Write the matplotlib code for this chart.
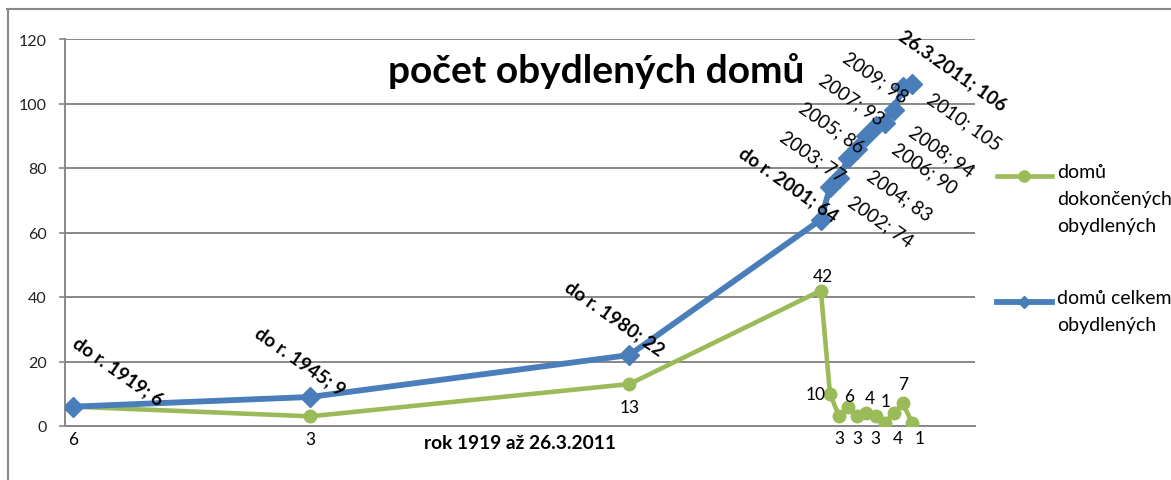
import matplotlib.pyplot as plt
from matplotlib.lines import Line2D

plt.rcParams['font.family'] = ['Lato', 'DejaVu Sans']

# ---- data ----
YEARS = [1919, 1945, 1980, 2001, 2002, 2003, 2004, 2005, 2006, 2007, 2008, 2009, 2010, 2011]
CELKEM = [6, 9, 22, 64, 74, 77, 83, 86, 90, 93, 94, 98, 105, 106]
DOKONCENE = [6, 3, 13, 42, 10, 3, 6, 3, 4, 3, 1, 4, 7, 1]
CELKEM_LABELS = ['do r. 1919; 6', 'do r. 1945; 9', 'do r. 1980; 22', 'do r. 2001; 64',
                 '2002; 74', '2003; 77', '2004; 83', '2005; 86', '2006; 90',
                 '2007; 93', '2008; 94', '2009; 98', '2010; 105', '26.3.2011; 106']
CELKEM_BOLD = [True, True, True, True, False, False, False, False, False,
               False, False, False, False, True]
NAME_DOKONCENE = 'domů\ndokončených\nobydlených'
NAME_CELKEM = 'domů celkem\nobydlených'
TITLE = 'počet obydlených domů'
XLABEL = 'rok 1919 až 26.3.2011'

# ---- style ----
C_BLUE = '#4A7EBB'
C_GREEN = '#9BBB59'
C_GRID = '#888888'
# label offsets in pixels (dx, dy) from each point
BLUE_OFF = [(45, 36), (-10, 36), (-15, 37), (-32, 36), (50, -34), (-27, 22), (51, -37),
            (-26, 22), (58, -32), (-24, 27), (57, -28), (-18, 33), (61, -34), (41, 14)]
GREEN_OFF = [(0, -32), (0, -23), (0, -23), (2, 15), (-14, 0), (0, -22), (1, 11),
             (0, -22), (3, 15), (0, -22), (1, 22), (4, -25), (0, 19), (8, -15)]

W, H = 1171, 481
fig = plt.figure(figsize=(W / 100, H / 100), dpi=100)
ax = fig.add_axes([65 / W, 1 - 427 / H, 910 / W, 387 / H])

ax.plot(YEARS, DOKONCENE, color=C_GREEN, lw=3.3, marker='o', ms=9, zorder=3)
ax.plot(YEARS, CELKEM, color=C_BLUE, lw=4.2, marker='D', ms=10.5, zorder=4)

ax.set_xlim(1918.12, 2017.9)
ax.set_ylim(0, 120)
ax.set_yticks(range(0, 121, 20))
ax.set_xticks([])
ax.grid(True, axis='y', color=C_GRID, lw=1.4)
ax.set_axisbelow(True)
for s in ['top', 'right']:
    ax.spines[s].set_visible(False)
for s in ['left', 'bottom']:
    ax.spines[s].set_color(C_GRID)
    ax.spines[s].set_linewidth(1.4)
ax.tick_params(axis='y', length=4, width=1.2, color=C_GRID, pad=9,
               labelsize=11.5, labelcolor='#222222')

for x, y, t, b, off in zip(YEARS, CELKEM, CELKEM_LABELS, CELKEM_BOLD, BLUE_OFF):
    ax.annotate(t, (x, y), xytext=off, textcoords='offset pixels',
                ha='center', va='center', rotation=-35, rotation_mode='anchor',
                fontsize=13.5, fontweight='bold' if b else 'normal',
                annotation_clip=False, zorder=5)

for x, y, off in zip(YEARS, DOKONCENE, GREEN_OFF):
    ax.annotate(str(y), (x, y), xytext=off, textcoords='offset pixels',
                ha='center', va='center', fontsize=12.5,
                annotation_clip=False, zorder=5)

ax.text((596 - 65) / 910, (427 - 71) / 387, TITLE, transform=ax.transAxes,
        ha='center', va='center', fontsize=28, fontweight='bold')
ax.set_xlabel(XLABEL, fontsize=13.8, fontweight='bold', labelpad=6)

# ---- legend drawn at the right ----
def legend_entry(y_px, color, marker, ms, lw, text):
    y = 1 - y_px / H
    fig.add_artist(Line2D([997 / W, 1052 / W], [y, y], color=color, lw=lw))
    fig.add_artist(Line2D([1024 / W], [y], color=color, marker=marker, ms=ms))
    fig.text(1057 / W, 1 - (y_px - 13) / H, text, ha='left', va='top', fontsize=14,
             linespacing=1.7, transform=fig.transFigure)

legend_entry(177, C_GREEN, 'o', 8, 3.3, NAME_DOKONCENE)
legend_entry(303, C_BLUE, 'D', 6.5, 4.2, NAME_CELKEM)

# ---- chart frame (top and left edges) ----
fig.add_artist(Line2D([7 / W, 1], [1 - 9.5 / H] * 2, color='#888888', lw=1.5))
fig.add_artist(Line2D([7.5 / W] * 2, [0, 1 - 9.5 / H], color='#888888', lw=1.5))

fig.savefig('out.png', dpi=100)
